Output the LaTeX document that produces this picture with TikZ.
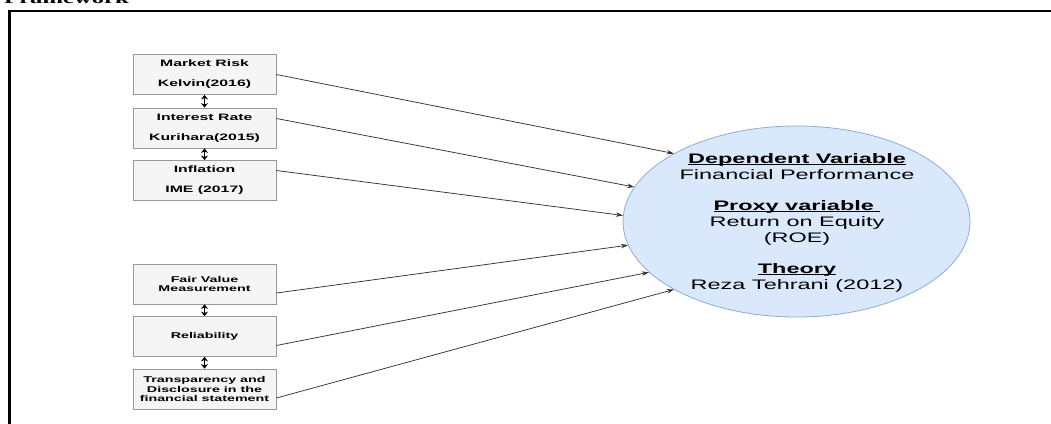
\documentclass[tikz,border=0pt]{standalone}
\usepackage{fontspec}
\usetikzlibrary{arrows.meta,shapes.geometric}
\newfontfamily\boxfont{Liberation Sans}[FakeStretch=1.7]
\newfontfamily\titlefont{Liberation Serif}[FakeStretch=1.7]
\definecolor{boxfill}{HTML}{F5F5F5}
\definecolor{boxline}{HTML}{999999}
\definecolor{ellfill}{HTML}{DAE8FC}
\definecolor{ellline}{HTML}{8EAADB}
\definecolor{arrline}{HTML}{333333}
\newcommand\ulhead[1]{\setbox0\hbox{#1}\rlap{\rule[-1.8pt]{\wd0}{1.1pt}}\box0}
\tikzset{
  varbox/.style={draw=boxline,fill=boxfill,line width=0.8pt,minimum width=143pt,minimum height=40pt,inner sep=0pt,align=center},
  bigtext/.style={font=\boxfont\bfseries\fontsize{9.3}{11}\selectfont},
  smalltext/.style={font=\boxfont\bfseries\fontsize{8.4}{9.8}\selectfont},
  conn/.style={draw=arrline,line width=0.75pt,-{Stealth[length=7pt,width=4.5pt]}},
  dbl/.style={line width=1.6pt,{Stealth[length=4.5pt,width=7pt]}-{Stealth[length=4.5pt,width=7pt]}}
}
\begin{document}
\begin{tikzpicture}[x=1pt,y=-1pt]
\useasboundingbox (0,0) rectangle (1051,423);
% frame and cut title
\draw [line width=2.2pt] (9.5,430) -- (9.5,11) -- (1060,11);
\node (title) [anchor=base west,inner sep=0pt,font=\titlefont\bfseries\fontsize{14.5}{16}\selectfont] at (4,3) {Framework};
% independent variables
\node (mrisk) [varbox,bigtext] at (204.5,74.5) {Market Risk\\[9pt]Kelvin(2016)};
\node (irate) [varbox,bigtext] at (204.5,128) {Interest Rate\\[9pt]Kurihara(2015)};
\node (infl) [varbox,bigtext] at (204.5,180.5) {Inflation\\[9pt]IME (2017)};
\node (fvm) [varbox,smalltext] at (204.5,284) {Fair Value\\Measurement};
\node (reli) [varbox,smalltext] at (204.5,336.5) {Reliability};
\node (tdfs) [varbox,smalltext] at (204.5,389) {Transparency and\\Disclosure in the\\financial statement};
\draw [dbl] (mrisk.south) -- (irate.north);
\draw [dbl] (irate.south) -- (infl.north);
\draw [dbl] (fvm.south) -- (reli.north);
\draw [dbl] (reli.south) -- (tdfs.north);
% dependent variable
\node (dv) [ellipse,draw=ellline,fill=ellfill,line width=0.8pt,minimum width=347pt,minimum height=191pt,inner sep=0pt] at (796.5,221.5) {};
\node (dvtext) [align=center,inner sep=0pt,font=\boxfont\fontsize{13.8}{15.75}\selectfont] at (797,222.8)
  {\ulhead{\bfseries Dependent Variable}\\Financial Performance\\[15.75pt]
   \ulhead{\bfseries Proxy variable\ }\\Return on Equity\\(ROE)\\[15.75pt]
   \ulhead{\bfseries Theory}\\Reza Tehrani (2012)};
\draw [conn] (mrisk.east) -- (dv.151);
\draw [conn] ([yshift=9.5pt]irate.east) -- (dv.168);
\draw [conn] ([yshift=10pt]infl.east) -- (dv.178.5);
\draw [conn] ([yshift=-9pt]fvm.east) -- (dv.188);
\draw [conn] ([yshift=-9pt]reli.east) -- (dv.199);
\draw [conn] ([yshift=-9pt]tdfs.east) -- (dv.209);
\end{tikzpicture}
\end{document}
